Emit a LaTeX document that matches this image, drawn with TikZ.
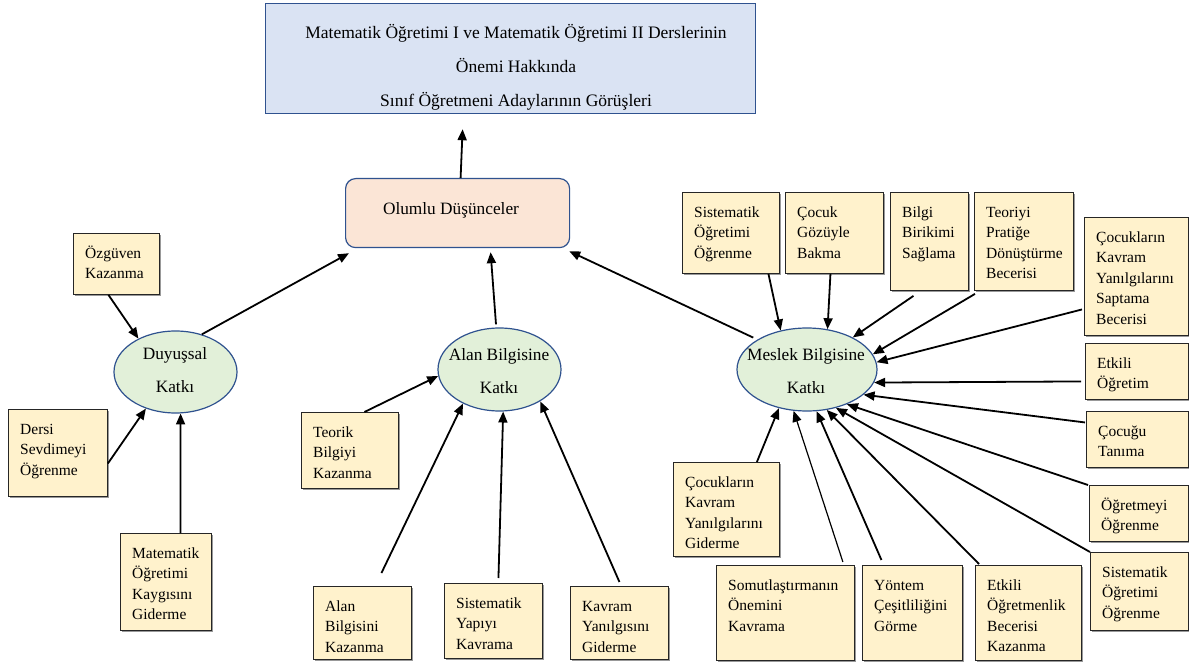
\documentclass[tikz,border=0pt]{standalone}
\usepackage{fontspec}
\setmainfont{Liberation Serif}
\usetikzlibrary{shapes.geometric,arrows.meta,shadows,calc}
\definecolor{boxfill}{HTML}{FFF2CC}
\definecolor{ellfill}{HTML}{E2F0D9}
\definecolor{olfill}{HTML}{FBE5D6}
\definecolor{topfill}{HTML}{DAE3F3}
\definecolor{blueline}{HTML}{2F528F}
\tikzset{
 ybox/.style={draw=black!85, line width=0.9pt, fill=boxfill, inner sep=0pt, anchor=north west,
   general shadow={fill=black!40, shadow xshift=2pt, shadow yshift=-2pt}},
 ytext/.style={anchor=north west, align=left, inner sep=0pt, font=\fontsize{15.5}{20.5}\selectfont},
 ell/.style={ellipse, draw=blueline, line width=1.2pt, fill=ellfill, inner sep=0pt},
 elltext/.style={align=center, inner sep=0pt, font=\fontsize{17.3}{33}\selectfont},
 arr/.style={line width=1.8pt, -{Triangle[length=11pt,width=9pt]}},
}
\newcommand\ybx[6]{%
 \node[ybox, minimum width={(#4-#2)*1pt}, minimum height={(#5-#3)*1pt}] (#1) at (#2,#3) {};
 \node[ytext] (#1t) at ([xshift=12pt,yshift=-11pt]#1.north west) {\rule{0pt}{14pt}#6};
}
\begin{document}
\begin{tikzpicture}[x=1pt,y=-1pt]
\useasboundingbox[fill=white] (0,0) rectangle (1189,663);
% title
\node[draw=blueline, line width=1.2pt, fill=topfill, minimum width=490pt, minimum height=110pt, inner sep=0pt, anchor=north west] (top) at (265,3) {};
\node[align=center, inner sep=0pt, font=\fontsize{17.5}{34}\selectfont] (topt) at (516,67) {Matematik Öğretimi I ve Matematik Öğretimi II Derslerinin\\Önemi Hakkında\\Sınıf Öğretmeni Adaylarının Görüşleri};
% olumlu
\node[draw=blueline, line width=1.2pt, fill=olfill, rounded corners=10pt, minimum width=224pt, minimum height=69pt, inner sep=0pt, anchor=north west] (olumlu) at (345,178) {};
\node[inner sep=0pt, font=\fontsize{17.3}{20}\selectfont] (olumlut) at (451,210) {Olumlu Düşünceler};
% ellipses
\node[ell, minimum width=123pt, minimum height=82pt] (duy) at (175.5,372) {};
\node[elltext] (duyt) at (175,370) {Duyuşsal\\Katkı};
\node[ell, minimum width=123pt, minimum height=83pt] (alan) at (499.5,369.5) {};
\node[elltext] (alant) at (499,371) {Alan Bilgisine\\Katkı};
\node[ell, minimum width=140pt, minimum height=83pt] (mes) at (807,369.5) {};
\node[elltext] (mest) at (806,371) {Meslek Bilgisine\\Katkı};
% boxes
\ybx{ozg}{73}{233}{159}{294}{Özgüven\\Kazanma}
\ybx{der}{8}{409}{107}{496}{Dersi\\Sevdimeyi\\Öğrenme}
\ybx{mat}{120}{533}{211}{630}{Matematik\\Öğretimi\\Kaygısını\\Giderme}
\ybx{teo}{301}{412}{398}{488}{Teorik\\Bilgiyi\\Kazanma}
\ybx{abk}{313}{586}{411}{659}{Alan\\Bilgisini\\Kazanma}
\ybx{syk}{444}{583}{542}{658}{Sistematik\\Yapıyı\\Kavrama}
\ybx{kyg}{570}{586}{668}{659}{Kavram\\Yanılgısını\\Giderme}
\ybx{sis1}{682}{192}{779}{273}{Sistematik\\Öğretimi\\Öğrenme}
\ybx{cgb}{785}{192}{883}{273}{Çocuk\\Gözüyle\\Bakma}
\ybx{bbs}{890}{192}{968}{290}{Bilgi\\Birikimi\\Sağlama}
\ybx{tpd}{974}{192}{1073}{290}{Teoriyi\\Pratiğe\\Dönüştürme\\Becerisi}
\ybx{cks}{1084}{217}{1188}{335}{Çocukların\\Kavram\\Yanılgılarını\\Saptama\\Becerisi}
\ybx{eo}{1085}{343}{1188}{399}{Etkili\\Öğretim}
\ybx{ct}{1086}{411}{1188}{467}{Çocuğu\\Tanıma}
\ybx{oo}{1089}{485}{1188}{541}{Öğretmeyi\\Öğrenme}
\ybx{sis2}{1090}{552}{1188}{630}{Sistematik\\Öğretimi\\Öğrenme}
\ybx{ckg}{673}{462}{779}{556}{Çocukların\\Kavram\\Yanılgılarını\\Giderme}
\ybx{sok}{716}{565}{854}{660}{Somutlaştırmanın\\Önemini\\Kavrama}
\ybx{ycg}{862}{565}{962}{660}{Yöntem\\Çeşitliliğini\\Görme}
\ybx{eob}{975}{565}{1081}{660}{Etkili\\Öğretmenlik\\Becerisi\\Kazanma}
% arrows to title and olumlu
\draw[arr] ([xshift=3pt]olumlu.north) -- ([xshift=-48pt,yshift=-15pt]top.south);
\draw[arr] (duy.55) -- ([xshift=4pt,yshift=-5pt]olumlu.south west);
\draw[arr] ([xshift=-3.5pt,yshift=3pt]alan.north) -- ([xshift=33pt,yshift=-4pt]olumlu.south);
\draw[arr] ([xshift=-4pt,yshift=2pt]mes.149) -- ([xshift=-1pt,yshift=-3pt]olumlu.south east);
% left
\draw[arr] ([xshift=-8pt]ozg.south) -- (duy.138);
\draw[arr] ([yshift=-10.5pt]der.east) -- (duy.231);
\draw[arr] ([xshift=14.5pt]mat.north) -- (duy.277);
% middle
\draw[arr] ([xshift=14.5pt]teo.north) -- (alan.186);
\draw[arr] ([xshift=19pt,yshift=13pt]abk.north) -- (alan.223);
\draw[arr] ([xshift=5pt,yshift=5pt]syk.north) -- (alan.275);
\draw[arr] ([yshift=4pt]kyg.north) -- (alan.322);
% right
\draw[arr] ([xshift=37.5pt]sis1.south) -- (mes.124);
\draw[arr] ([xshift=-4pt]cgb.south) -- (mes.63);
\draw[arr] ([xshift=-16pt,yshift=-5pt]bbs.south) -- (mes.35);
\draw[arr] ([xshift=1pt,yshift=-3pt]tpd.south west) -- (mes.13);
\draw[arr] ([xshift=-2pt,yshift=-33pt]cks.west) -- (mes.6);
\draw[arr] ([xshift=-4pt,yshift=-10pt]eo.west) -- (mes.-11);
\draw[arr] ([xshift=-1pt,yshift=17pt]ct.west) -- (mes.-24);
\draw[arr] ([xshift=-1pt]oo.north west) -- (mes.-41);
\draw[arr] (sis2.north west) -- (mes.-53);
\draw[arr] ([xshift=4pt,yshift=1pt]eob.north west) -- (mes.-64);
\draw[arr] ([xshift=-31pt,yshift=5pt]ycg.north) -- (mes.-77);
\draw[arr, line width=1.2pt] ([xshift=-12pt,yshift=3pt]sok.north east) -- (mes.-108.6);
\draw[arr] ([xshift=-23pt]ckg.north east) -- (mes.-126.5);
\end{tikzpicture}
\end{document}
